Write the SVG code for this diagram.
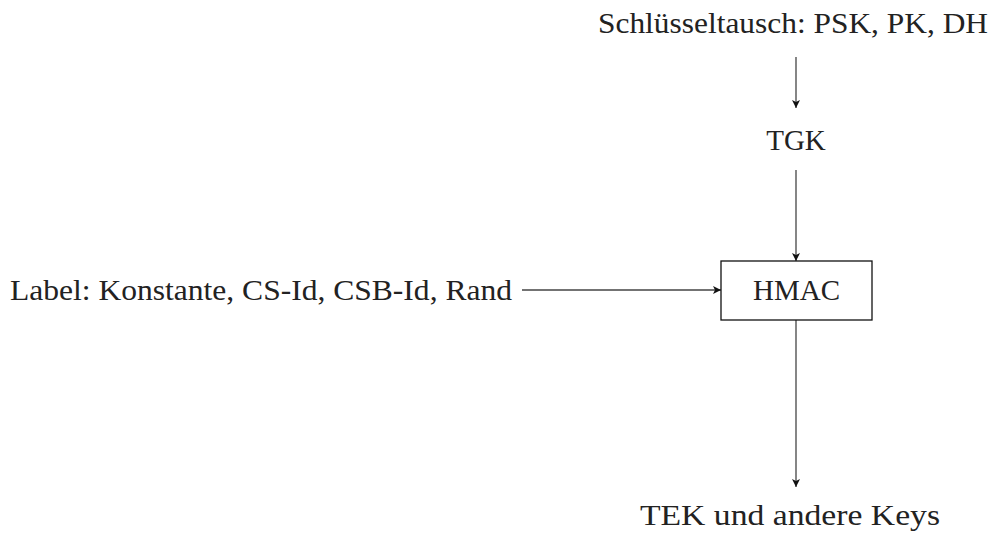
<svg xmlns="http://www.w3.org/2000/svg" width="996" height="533" viewBox="0 0 996 533">
  <style>
    .t { font-family: "Liberation Serif", "DejaVu Serif", serif; font-size: 29px; fill: #222; }
    .c { stroke: #444; stroke-width: 1.3; fill: none; marker-end: url(#ah); }
    .box { fill: #fff; stroke: #111; stroke-width: 1.3; }
  </style>
  <defs>
    <marker id="ah" viewBox="0 0 10 10" refX="10" refY="5" markerWidth="11" markerHeight="8" markerUnits="userSpaceOnUse" orient="auto">
      <path d="M0,0 L10,5 L0,10 L2.5,5 z" fill="#111"/>
    </marker>
  </defs>

  <g id="connectors">
    <line class="c" x1="796" y1="57" x2="796" y2="108"/>
    <line class="c" x1="796" y1="170" x2="796" y2="261"/>
    <line class="c" x1="522" y1="290" x2="721" y2="290"/>
    <line class="c" x1="796" y1="320" x2="796" y2="487"/>
  </g>

  <g id="key-exchange">
    <text class="t" x="598" y="33" textLength="390" lengthAdjust="spacingAndGlyphs">Schlüsseltausch: PSK, PK, DH</text>
  </g>
  <g id="tgk">
    <text class="t" x="796" y="150" text-anchor="middle">TGK</text>
  </g>
  <g id="label">
    <text class="t" x="10" y="300" textLength="502" lengthAdjust="spacingAndGlyphs">Label: Konstante, CS-Id, CSB-Id, Rand</text>
  </g>
  <g id="hmac">
    <rect class="box" x="721" y="261" width="151" height="59"/>
    <text class="t" x="796.5" y="300" text-anchor="middle">HMAC</text>
  </g>
  <g id="tek">
    <text class="t" x="640" y="525" textLength="300" lengthAdjust="spacingAndGlyphs">TEK und andere Keys</text>
  </g>
</svg>
